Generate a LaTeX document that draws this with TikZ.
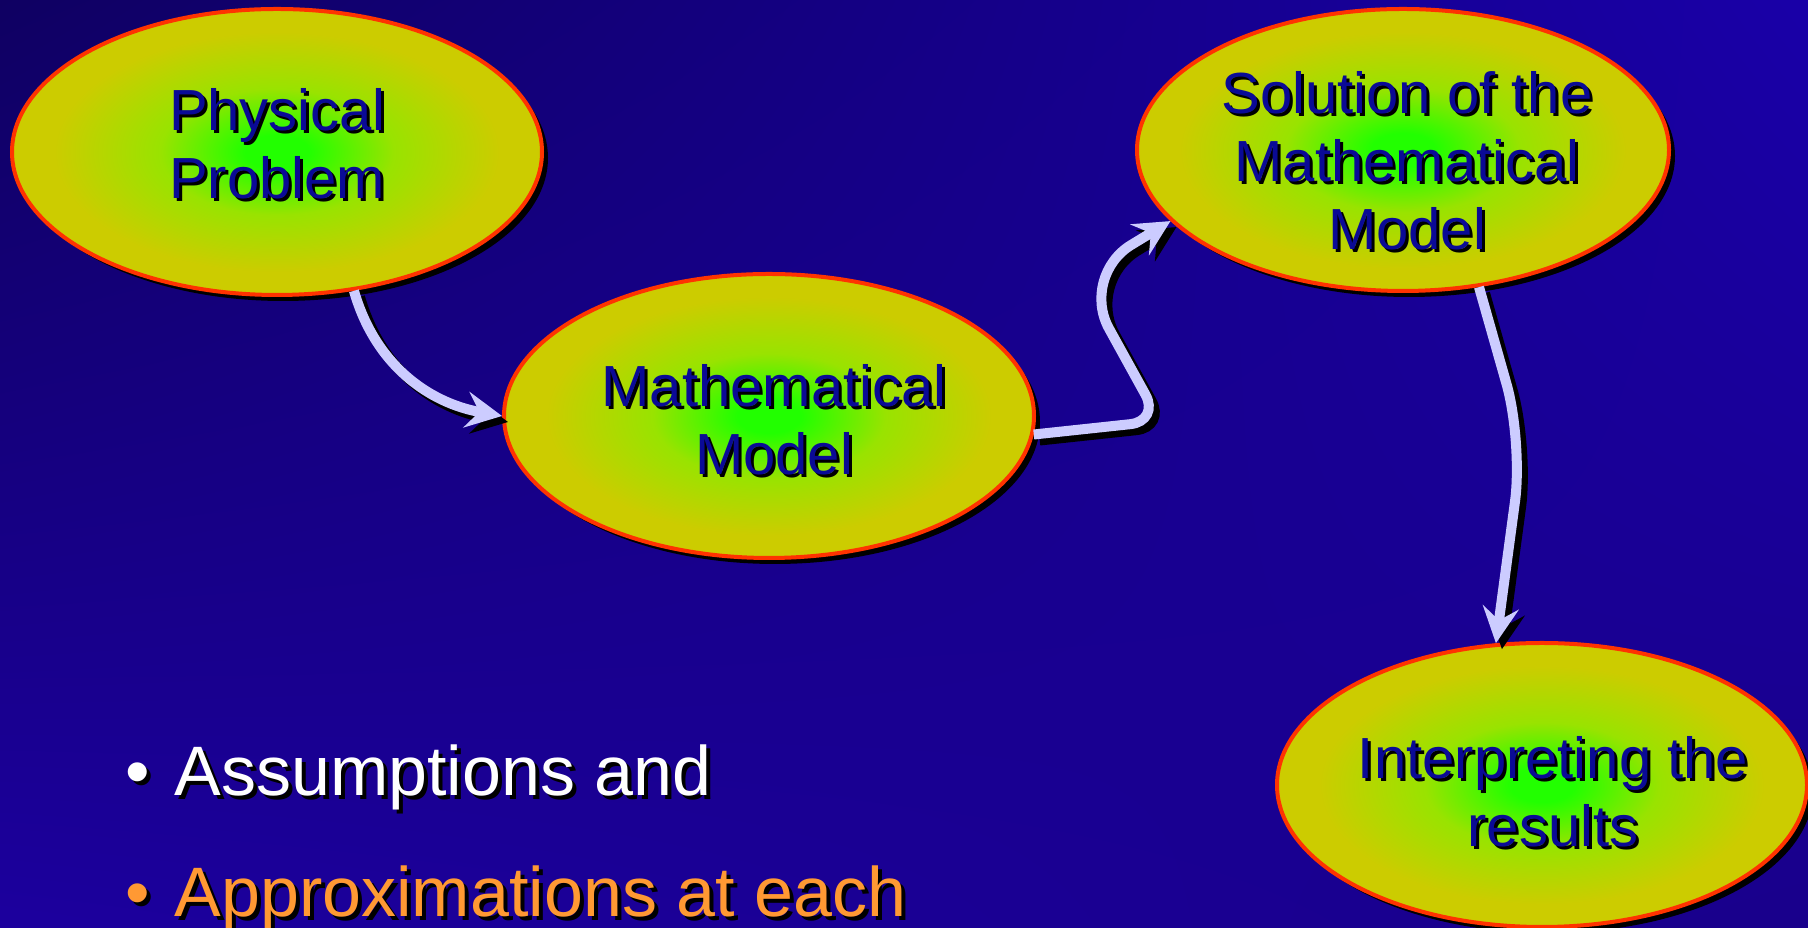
\documentclass[tikz,border=0pt]{standalone}
\usepackage{fontspec}
\setmainfont{Liberation Sans}
\usetikzlibrary{shapes.geometric,shadows,shadings,arrows.meta}

\definecolor{slidebg}{HTML}{1C009E}
\definecolor{slidedark}{HTML}{0F0062}
\definecolor{bubgreen}{HTML}{22FF00}
\definecolor{bubmid}{HTML}{99E300}
\definecolor{bubolive}{HTML}{CCCC00}
\definecolor{bubred}{HTML}{FF3300}
\definecolor{bubtext}{HTML}{0A0A96}
\definecolor{flowcol}{HTML}{CCCCFF}
\definecolor{bulletorange}{HTML}{FF9933}

\pgfdeclareradialshading{bubblefill}{\pgfpoint{0bp}{0bp}}{%
  color(0bp)=(bubgreen); color(3bp)=(bubgreen); color(11bp)=(bubmid);
  color(21bp)=(bubolive); color(25bp)=(bubolive); color(50bp)=(bubolive)}

\newcommand\shadowtext[2][3pt]{\makebox[0pt][l]{\hspace{#1}\raisebox{-#1}{\color{black}#2}}#2}

\begin{document}
\begin{tikzpicture}[x=1pt,y=1pt,
	bubble/.style={ellipse,shade,shading=bubblefill,draw=bubred,line width=4pt,inner sep=0pt,
		drop shadow={shadow xshift=6pt,shadow yshift=-6pt,fill=black,opacity=1}},
	bubtxt/.style={text=bubtext,inner sep=0pt,font=\fontsize{58}{68}\selectfont},
	flow/.style={line width=10pt,-{Stealth[length=36pt,width=36pt,inset=13pt]}},
	bullettxt/.style={anchor=base west,inner sep=0pt,font=\fontsize{70}{84}\selectfont}]
	\useasboundingbox (0,0) rectangle (1808,928);
	\shade[upper left=slidedark,upper right=slidebg!90!blue,lower left=slidebg,lower right=slidebg!88!black] (0,0) rectangle (1808,928);

	% the four stages
	\node[bubble,minimum width=530,minimum height=286] (phys) at (277,776) {};
	\node[bubble,minimum width=530,minimum height=284] (math) at (769,512) {};
	\node[bubble,minimum width=532,minimum height=282] (sol) at (1403,778) {};
	\node[bubble,minimum width=530,minimum height=284] (res) at (1542,143) {};

	\node[bubtxt] (physlbl) at (277,776) {\shadowtext{\begin{tabular}{@{}c@{}}Physical\\Problem\end{tabular}}};
	\node[bubtxt] (mathlbl) at (774,500) {\shadowtext{\begin{tabular}{@{}c@{}}Mathematical\\Model\end{tabular}}};
	\node[bubtxt] (sollbl) at (1407,759) {\shadowtext{\begin{tabular}{@{}c@{}}Solution of the\\Mathematical\\Model\end{tabular}}};
	\node[bubtxt] (reslbl) at (1553,128) {\shadowtext{\begin{tabular}{@{}c@{}}Interpreting the\\results\end{tabular}}};

	% arrows, shadow first
	\foreach \dx/\col in {6/black,0/flowcol} {
		\begin{scope}[transform canvas={shift={(\dx,-\dx)}}]
		\draw[flow,draw=\col] (phys.-61) to[out=-74,in=170] (math.west);
		\draw[flow,draw=\col,rounded corners=30pt] (math.-4) -- (1160,507) [rounded corners=60pt] -- (1080,652) -- (sol.197);
		\draw[flow,draw=\col,rounded corners=60pt] (sol.-61) -- (1523,486) -- (res.108);
		\end{scope}
	}

	% bullets
	\node[bullettxt,text=white] (assume) at (125,132) {\shadowtext[4pt]{•\hspace{25pt}Assumptions and}};
	\node[bullettxt,text=bulletorange] (approx) at (125,11) {\shadowtext[4pt]{•\hspace{25pt}Approximations at each}};
\end{tikzpicture}
\end{document}
